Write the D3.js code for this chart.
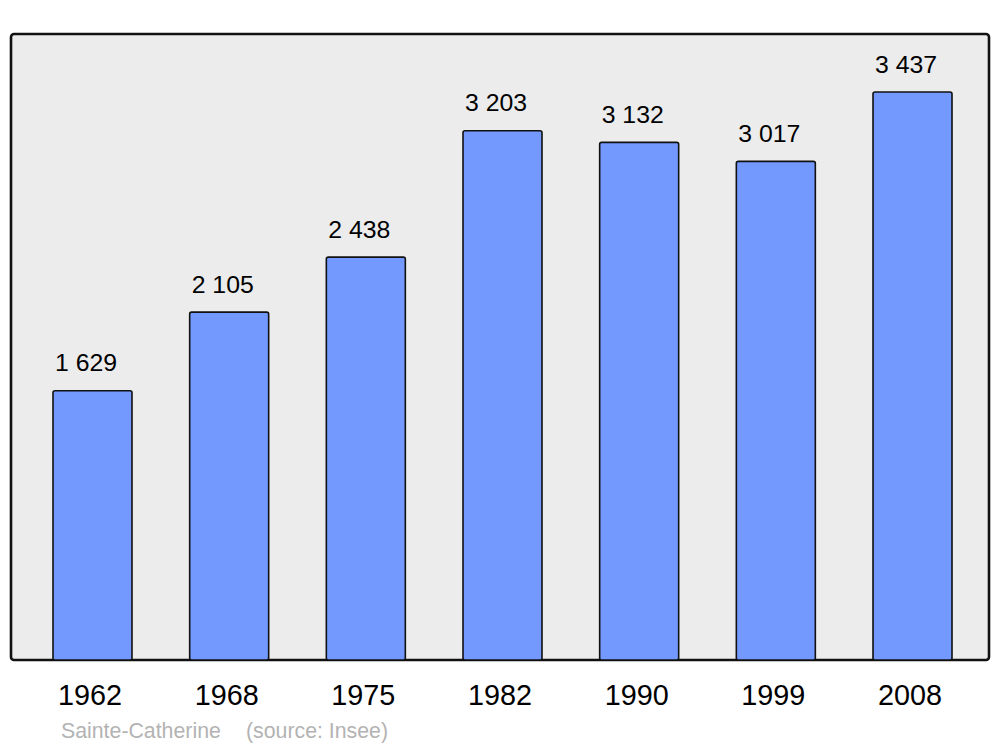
<!DOCTYPE html>
<html><head><meta charset="utf-8">
<script src="https://cdn.jsdelivr.net/npm/d3@7"></script>
<style>html,body{margin:0;padding:0;background:#fff;}svg{display:block;}</style>
</head><body>
<svg id="chart" width="1000" height="747"></svg>
<script>
const years = ["1962","1968","1975","1982","1990","1999","2008"];
const population = [1629, 2105, 2438, 3203, 3132, 3017, 3437];
const valueLabels = ["1 629","2 105","2 438","3 203","3 132","3 017","3 437"];
const townName = "Sainte-Catherine";
const sourceText = "(source: Insee)";

const svg = d3.select("#chart");
const panel = {x0: 11, x1: 989, y0: 34, y1: 660};

svg.append("rect")
  .attr("x", panel.x0).attr("y", panel.y0)
  .attr("width", panel.x1 - panel.x0).attr("height", panel.y1 - panel.y0)
  .attr("rx", 3).attr("ry", 3)
  .attr("fill", "#ececec").attr("stroke", "#111").attr("stroke-width", 2.6);

const x = d3.scaleBand().domain(years).range([53, 952]).paddingInner(0.422).paddingOuter(0);
const y = d3.scaleLinear().domain([0, 3788]).range([panel.y1, panel.y0]);

const data = years.map((yr, i) => ({yr, v: population[i], lab: valueLabels[i]}));

svg.append("g").selectAll("rect").data(data).join("rect")
  .attr("x", d => x(d.yr)).attr("y", d => y(d.v))
  .attr("width", x.bandwidth()).attr("height", d => y(0) - y(d.v))
  .attr("rx", 2).attr("ry", 2)
  .attr("fill", "#7399ff").attr("stroke", "#111").attr("stroke-width", 1.6);

svg.append("g").selectAll("text").data(data).join("text")
  .attr("x", d => x(d.yr) + 2).attr("y", d => y(d.v) - 19.5)
  .attr("font-family", "Liberation Sans, Arial, sans-serif").attr("font-size", 24.8)
  .attr("fill", "#000").text(d => d.lab);

svg.append("g").selectAll("text").data(data).join("text")
  .attr("x", d => x(d.yr) + x.bandwidth()/2 - 2.5).attr("y", 705)
  .attr("text-anchor", "middle")
  .attr("font-family", "Liberation Sans, Arial, sans-serif").attr("font-size", 28.8)
  .attr("fill", "#000").text(d => d.yr);

svg.append("text").attr("x", 61).attr("y", 737.5)
  .attr("font-family", "Liberation Sans, Arial, sans-serif").attr("font-size", 21.3)
  .attr("fill", "#b3b3b3").text(townName);
svg.append("text").attr("x", 246).attr("y", 737.5)
  .attr("font-family", "Liberation Sans, Arial, sans-serif").attr("font-size", 21.3)
  .attr("fill", "#b3b3b3").text(sourceText);
</script>
</body></html>
